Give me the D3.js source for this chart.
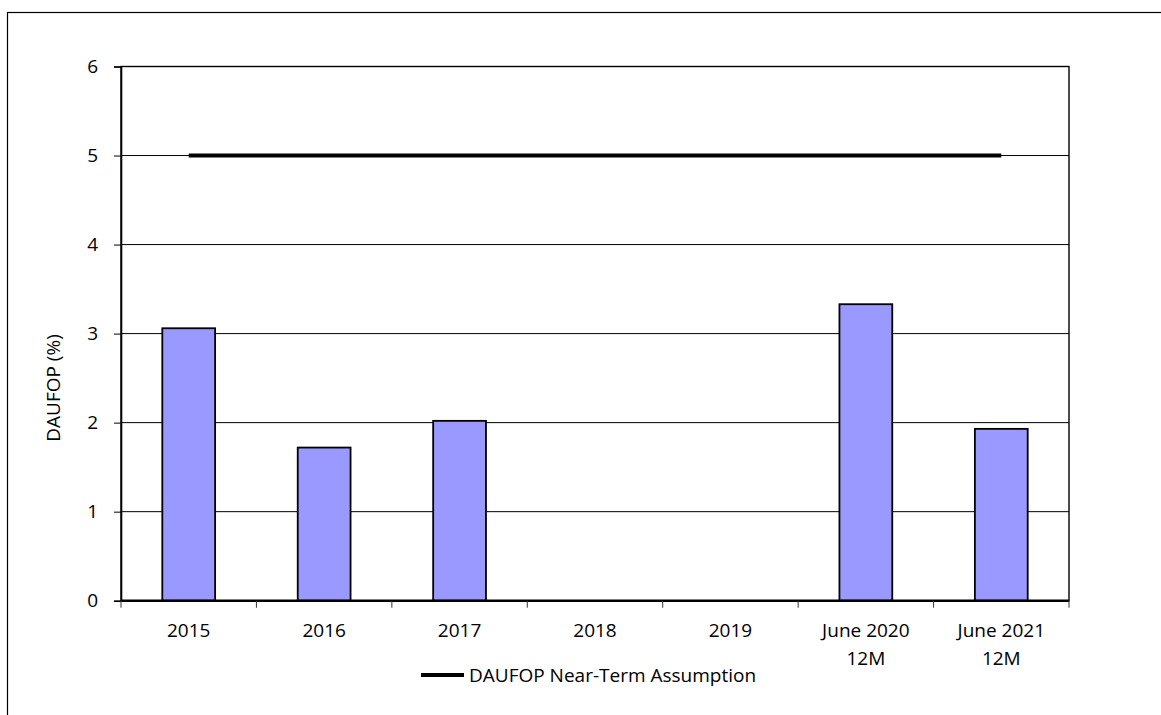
<!DOCTYPE html>
<html>
<head>
<meta charset="utf-8">
<script src="https://cdn.jsdelivr.net/npm/d3@7"></script>
<style>
  html, body { margin: 0; padding: 0; background: #fff; }
  svg { display: block; }
  text { font-family: "Open Sans", "Liberation Sans", sans-serif; fill: #000; }
</style>
</head>
<body>
<svg id="chart" width="1161" height="715"></svg>
<script>
// Category labels (multi-line labels split on "\n")
const categories = ["2015", "2016", "2017", "2018", "2019", "June 2020\n12M", "June 2021\n12M"];
// DAUFOP actuals (%); 2018 and 2019 have no bar
const daufop = [3.06, 1.72, 2.02, 0, 0, 3.33, 1.93];
// Near-term assumption (%)
const assumption = [5, 5, 5, 5, 5, 5, 5];
const yTicks = [0, 1, 2, 3, 4, 5, 6];
const legendLabel = "DAUFOP Near-Term Assumption";
const yTitle = "DAUFOP (%)";

const svg = d3.select("#chart");
const plot = { left: 121, right: 1069, top: 66.5, bottom: 600.7 };
const fontSize = 19;

// Outer frame
svg.append("rect")
  .attr("x", 7.5).attr("y", 12.5)
  .attr("width", 1400).attr("height", 900)
  .attr("fill", "none").attr("stroke", "#000").attr("stroke-width", 1.2);

const x = d3.scaleBand().domain(categories).range([plot.left, plot.right]).padding(0);
const y = d3.scaleLinear().domain([0, 6]).range([plot.bottom, plot.top]);

// Horizontal gridlines
svg.append("g").selectAll("line").data(yTicks.filter(t => t > 0 && t < 6)).join("line")
  .attr("x1", plot.left).attr("x2", plot.right)
  .attr("y1", d => y(d)).attr("y2", d => y(d))
  .attr("stroke", "#000").attr("stroke-width", 1);

// Plot frame
svg.append("rect")
  .attr("x", plot.left).attr("y", plot.top)
  .attr("width", plot.right - plot.left).attr("height", plot.bottom - plot.top)
  .attr("fill", "none").attr("stroke", "#000").attr("stroke-width", 1.4);

// Bars
const barFrac = 0.39;
svg.append("g").selectAll("rect")
  .data(categories.map((c, i) => ({ c, v: daufop[i] })).filter(d => d.v > 0))
  .join("rect")
  .attr("x", d => x(d.c) + x.bandwidth() * (1 - barFrac) / 2)
  .attr("width", x.bandwidth() * barFrac)
  .attr("y", d => y(d.v))
  .attr("height", d => y(0) - y(d.v))
  .attr("fill", "#9999FF").attr("stroke", "#000").attr("stroke-width", 1.8);

// Y axis
const yAxis = d3.axisLeft(y).tickValues(yTicks).tickSize(7).tickPadding(16).tickFormat(d3.format("d"));
const gy = svg.append("g").attr("transform", `translate(${plot.left},0)`).call(yAxis);
gy.select(".domain").attr("stroke", "#000").attr("stroke-width", 1.6);
gy.selectAll(".tick line").attr("stroke", "#000");
gy.selectAll(".tick text").attr("font-size", fontSize).attr("font-family", "Open Sans");

// X axis: ticks on category boundaries
const bottomG = svg.append("g").attr("transform", `translate(0,${plot.bottom})`);
bottomG.append("line").attr("x1", plot.left).attr("x2", plot.right)
  .attr("stroke", "#000").attr("stroke-width", 2.4);
const bounds = categories.map(c => x(c)).concat([plot.right]);
bottomG.selectAll("line.tk").data(bounds).join("line").attr("class", "tk")
  .attr("x1", d => d).attr("x2", d => d).attr("y1", 0).attr("y2", 7)
  .attr("stroke", "#333").attr("stroke-width", 1);
const labels = bottomG.selectAll("text.cat").data(categories).join("text").attr("class", "cat")
  .attr("text-anchor", "middle").attr("font-size", fontSize)
  .attr("transform", d => `translate(${x(d) + x.bandwidth() / 2},0)`);
labels.selectAll("tspan").data(d => d.split("\n")).join("tspan")
  .attr("x", 0).attr("y", (d, i) => 36 + i * 28).text(d => d);

// Near-term assumption line
const line = d3.line().x((d, i) => x(categories[i]) + x.bandwidth() / 2).y(d => y(d));
svg.append("path").datum(assumption)
  .attr("d", line).attr("fill", "none").attr("stroke", "#000").attr("stroke-width", 4);

// Y title
svg.append("text")
  .attr("transform", `translate(60,388) rotate(-90)`)
  .attr("text-anchor", "middle").attr("font-size", fontSize).text(yTitle);

// Legend
const lg = svg.append("g").attr("transform", "translate(421,675)");
lg.append("line").attr("x1", 0).attr("x2", 43).attr("stroke", "#000").attr("stroke-width", 4);
lg.append("text").attr("x", 48).attr("y", 7).attr("font-size", fontSize).text(legendLabel);
</script>
</body>
</html>
